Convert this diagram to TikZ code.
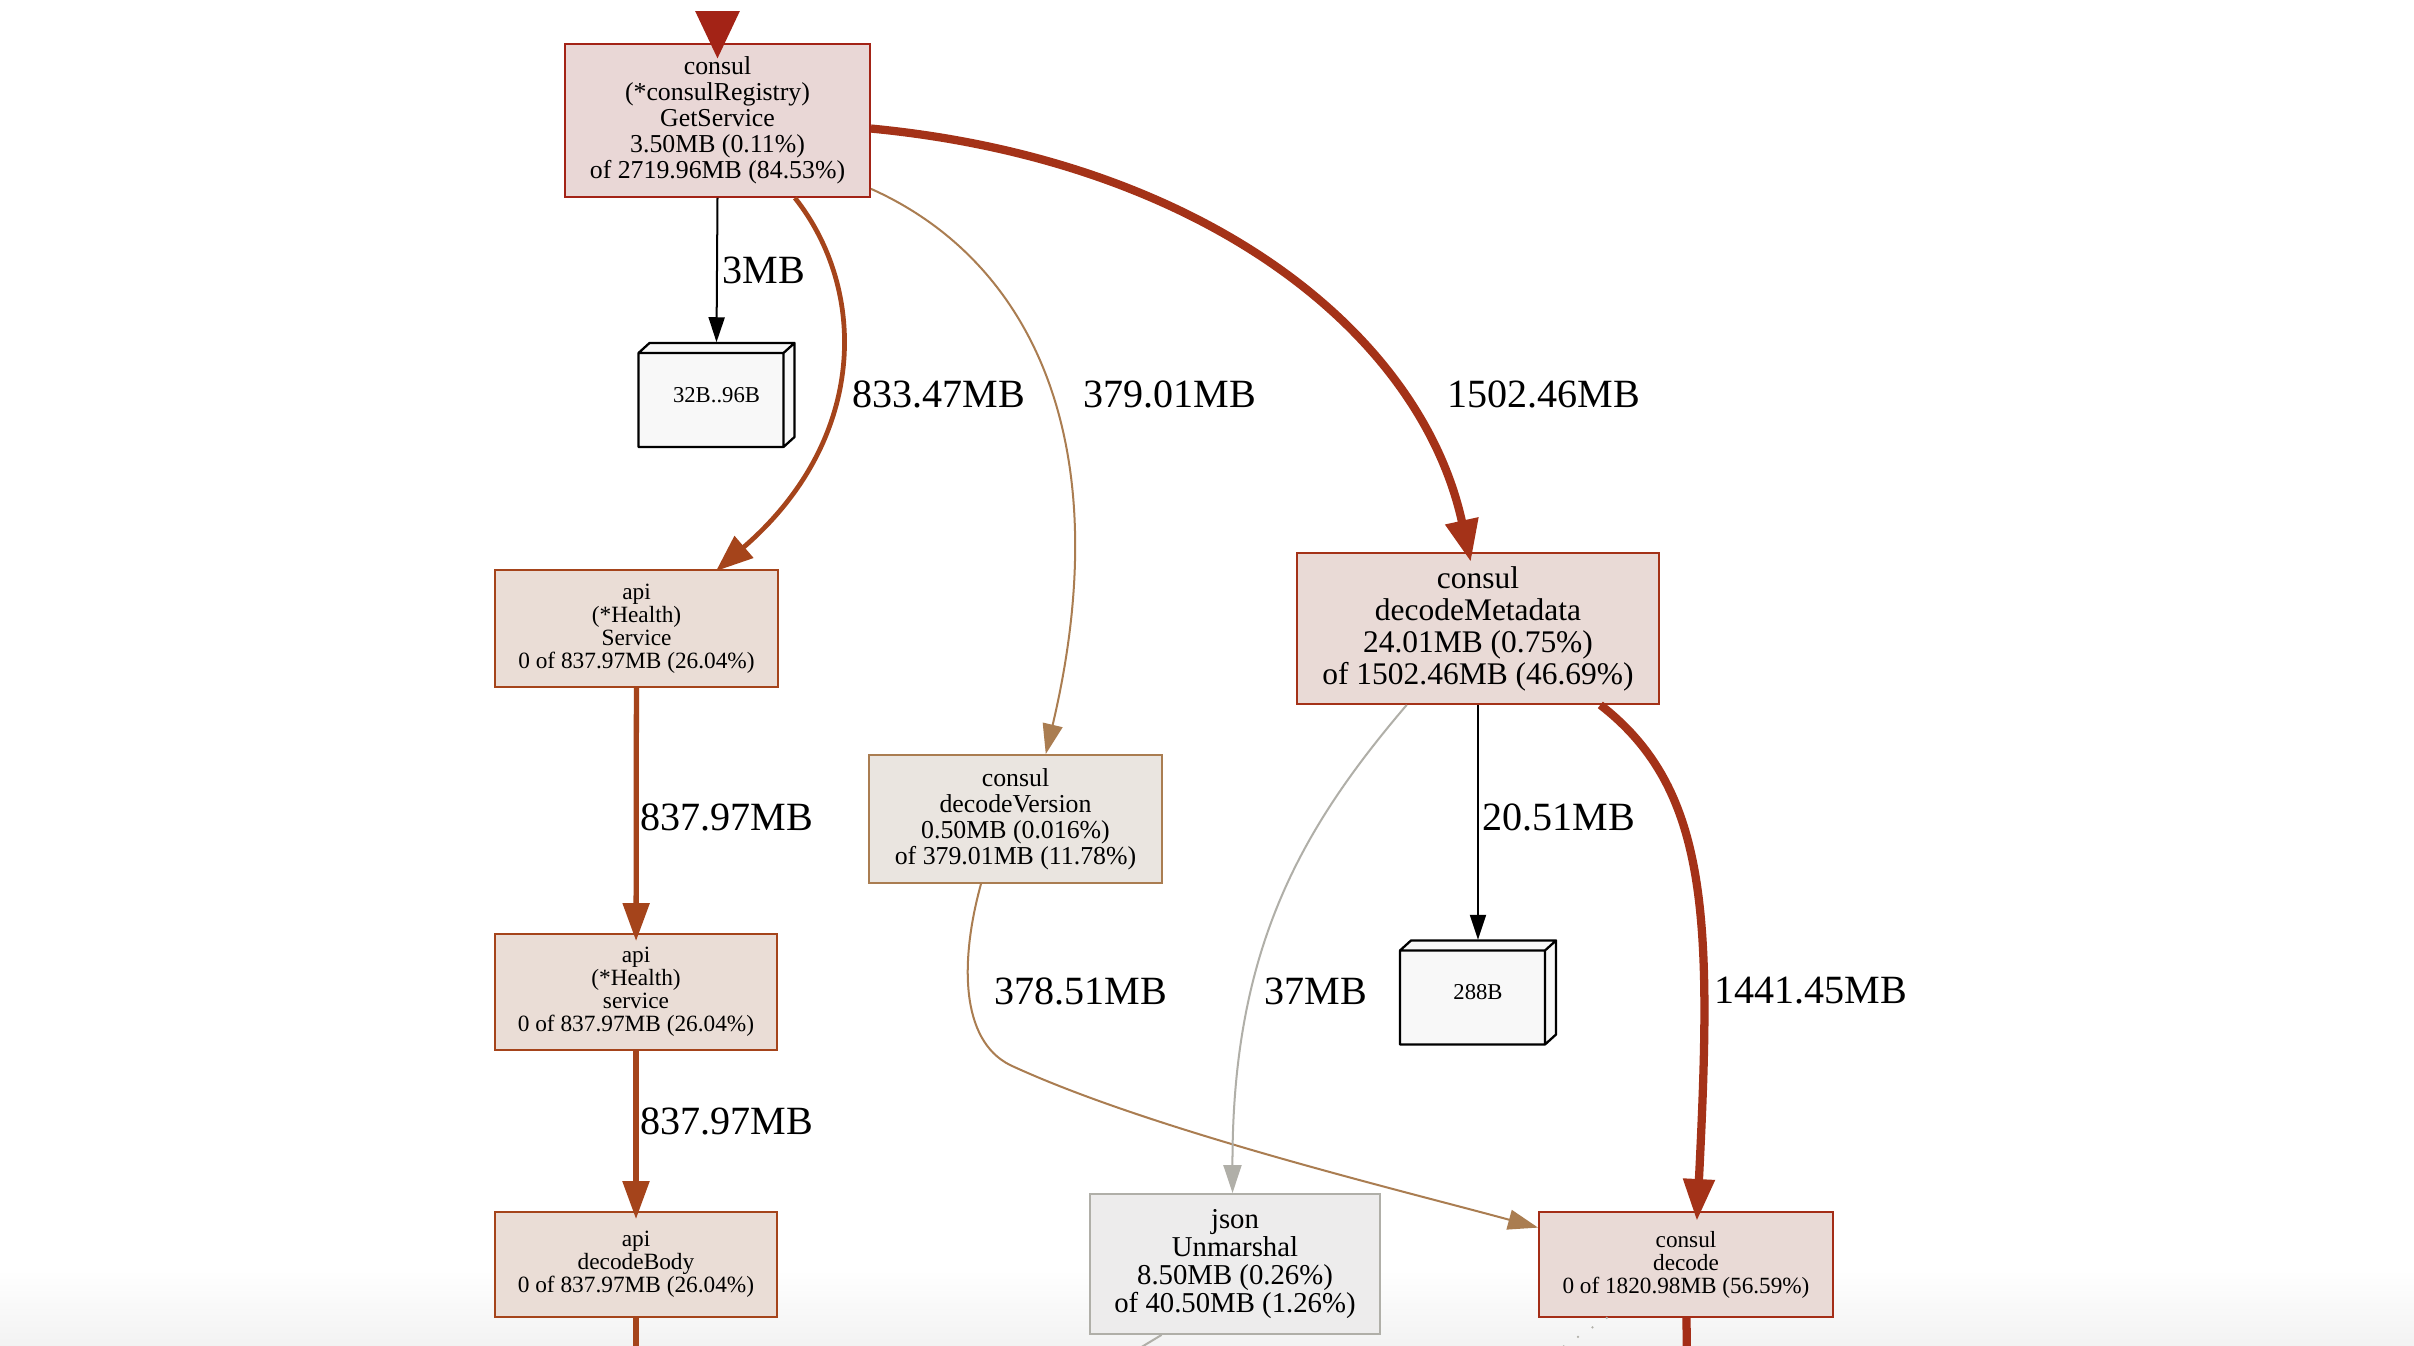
\documentclass[tikz,border=0pt]{standalone}
\usepackage{fontspec}
\setmainfont{Liberation Serif}
\usepackage{xcolor}
\definecolor{pfRed}{HTML}{A32316}
\definecolor{pfRedMid}{HTML}{A43218}
\definecolor{pfRedDec}{HTML}{A42D17}
\definecolor{pfOrange}{HTML}{A5441B}
\definecolor{pfTan}{HTML}{AA7D51}
\definecolor{pfGray}{HTML}{B0AFA8}
\definecolor{fillRed}{HTML}{E9D7D6}
\definecolor{fillRedLt}{HTML}{E9DAD6}
\definecolor{fillOrange}{HTML}{EADDD6}
\definecolor{fillTan}{HTML}{EAE5E0}
\definecolor{fillGray}{HTML}{EDECEC}
\definecolor{fillTag}{HTML}{F8F8F8}
\usepackage{tikz}
\usetikzlibrary{arrows.meta,calc}

\newcommand{\fsz}[2]{\fontsize{#1}{#2}\selectfont}

\begin{document}
\begin{tikzpicture}[x=0.01cm, y=-0.01cm,
  fn/.style={draw, rectangle, align=center, inner sep=0pt, line width=0.5pt},
  tag/.style={rectangle, inner sep=0pt, minimum width=1.56cm, minimum height=1.04cm,
    font=\fsz{6.45}{7.7}},
  lab/.style={inner sep=0pt, font=\fsz{11.4}{13}},
  thinedge/.style={line width=0.57pt}]
  \useasboundingbox (0,0) rectangle (2414,1346);
  \clip (0,0) rectangle (2414,1346);
  % page, with the fade at the bottom of the screenshot
  \fill[white] (0,0) rectangle (2414,1346);
  \shade[top color=white, bottom color=black!5] (0,1270) rectangle (2414,1346);

  % functions
  \node[fn, draw=pfRed, fill=fillRed, minimum width=3.05cm, minimum height=1.53cm,
    font=\fsz{7.34}{7.4}] (gs) at (717.5,120.5)
    {consul\\(*consulRegistry)\\GetService\\3.50MB (0.11\%)\\of 2719.96MB (84.53\%)};
  \node[fn, draw=pfOrange, fill=fillOrange, minimum width=2.83cm, minimum height=1.17cm,
    font=\fsz{6.63}{6.55}] (hs1) at (636.5,628.5)
    {api\\(*Health)\\Service\\0 of 837.97MB (26.04\%)};
  \node[fn, draw=pfOrange, fill=fillOrange, minimum width=2.82cm, minimum height=1.16cm,
    font=\fsz{6.63}{6.55}] (hs2) at (636,992)
    {api\\(*Health)\\service\\0 of 837.97MB (26.04\%)};
  \node[fn, draw=pfOrange, fill=fillOrange, minimum width=2.82cm, minimum height=1.05cm,
    font=\fsz{6.63}{6.55}] (body) at (636,1264.5)
    {api\\decodeBody\\0 of 837.97MB (26.04\%)};
  \node[fn, draw=pfTan, fill=fillTan, minimum width=2.93cm, minimum height=1.28cm,
    font=\fsz{7.34}{7.4}] (dv) at (1015.5,819)
    {consul\\decodeVersion\\0.50MB (0.016\%)\\of 379.01MB (11.78\%)};
  \node[fn, draw=pfRedMid, fill=fillRedLt, minimum width=3.62cm, minimum height=1.51cm,
    font=\fsz{8.95}{9.1}] (dm) at (1478,628.5)
    {consul\\decodeMetadata\\24.01MB (0.75\%)\\of 1502.46MB (46.69\%)};
  \node[fn, draw=pfGray, fill=fillGray, minimum width=2.90cm, minimum height=1.40cm,
    font=\fsz{8.18}{8.0}] (js) at (1235,1264)
    {json\\Unmarshal\\8.50MB (0.26\%)\\of 40.50MB (1.26\%)};
  \node[fn, draw=pfRedDec, fill=fillRedLt, minimum width=2.94cm, minimum height=1.05cm,
    font=\fsz{6.6}{6.55}] (dec) at (1686,1264.5)
    {consul\\decode\\0 of 1820.98MB (56.59\%)};

  % size tags, drawn as 3d boxes behind their text
  \foreach \t/\p in {b32/{716.5,395}, b288/{1478,992.5}} {
    \coordinate (c) at (\p);
    \filldraw[fill=fillTag, line width=0.65pt, line join=round]
      ($(c)+(-78,52)$) rectangle ($(c)+(67,-42)$)
      ($(c)+(-78,-42)$) -- ($(c)+(-67,-52)$) -- ($(c)+(78,-52)$) -- ($(c)+(67,-42)$) -- cycle
      ($(c)+(67,-42)$) -- ($(c)+(78,-52)$) -- ($(c)+(78,42)$) -- ($(c)+(67,52)$) -- cycle;
  }
  \node[tag] (b32) at (716.5,395) {32B..96B};
  \node[tag] (b288) at (1478,992.5) {288B};

  % edges
  \coordinate (entry) at (717.5,12);
  \draw[pfRed, line width=2.6pt, -{Triangle[length=0.48cm,width=0.42cm]}, shorten >=-0.16cm]
    (entry) -- (gs.north);
  \draw[thinedge, -{Triangle[length=0.25cm,width=0.16cm]}] (gs.south) -- (b32.north);
  \draw[pfOrange, line width=1.35pt, -{Triangle[length=0.37cm,width=0.28cm]}, shorten >=-0.03cm]
    (gs.-45) .. controls (868,290) and (868,440) .. (hs1.36);
  \draw[pfTan, thinedge, -{Triangle[length=0.30cm,width=0.20cm]}]
    (gs.-24) .. controls (1030,260) and (1120,440) .. (dv.65);
  \draw[pfRedMid, line width=2.35pt, -{Triangle[length=0.42cm,width=0.32cm]}, shorten >=-0.1cm]
    (gs.-3) .. controls (1200,160) and (1420,330) .. (dm.97);
  \draw[pfOrange, line width=1.5pt, -{Triangle[length=0.38cm,width=0.26cm]}, shorten >=-0.08cm]
    (hs1) -- (hs2);
  \draw[pfOrange, line width=1.5pt, -{Triangle[length=0.38cm,width=0.26cm]}, shorten >=-0.08cm]
    (hs2) -- (body);
  \draw[pfTan, thinedge, -{Triangle[length=0.30cm,width=0.20cm]}]
    (dv.-118) .. controls (960,960) and (960,1040) .. (1010,1065)
    .. controls (1150,1130) and (1400,1190) .. (dec.166);
  \draw[pfGray, thinedge, -{Triangle[length=0.28cm,width=0.18cm]}]
    (dm.-133) .. controls (1300,830) and (1232,950) .. (js.92);
  \draw[thinedge, -{Triangle[length=0.25cm,width=0.16cm]}] (dm.south) -- (b288.north);
  \draw[pfRedMid, line width=2.35pt, -{Triangle[length=0.42cm,width=0.30cm]}, shorten >=-0.1cm]
    (dm.-32) .. controls (1710,790) and (1712,920) .. (dec.78);

  % edges leaving the bottom of the view
  \coordinate (bodyOut) at (636,1370);
  \coordinate (jsOut) at (1120,1360);
  \coordinate (decOut) at (1687,1370);
  \coordinate (decOut2) at (1540,1362);
  \draw[pfOrange, line width=1.5pt] (body) -- (bodyOut);
  \draw[pfGray, thinedge] (js.-136) -- (jsOut);
  \draw[pfRedDec, line width=2.35pt] (dec) -- (decOut);
  \draw[pfGray, line width=0.7pt, dash pattern=on 0pt off 4.9pt, line cap=round]
    (dec.-146) -- (decOut2);

  % edge labels
  \node[lab] (l3) at (764,270) {3MB};
  \node[lab] (l833) at (939,394) {833.47MB};
  \node[lab] (l379) at (1170,394) {379.01MB};
  \node[lab] (l1502) at (1544,394) {1502.46MB};
  \node[lab] (l838a) at (727,817) {837.97MB};
  \node[lab] (l838b) at (727,1121) {837.97MB};
  \node[lab] (l2051) at (1559,817) {20.51MB};
  \node[lab] (l378) at (1081,991) {378.51MB};
  \node[lab] (l37) at (1316,991) {37MB};
  \node[lab] (l1441) at (1811,991) {1441.45MB};
\end{tikzpicture}
\end{document}
